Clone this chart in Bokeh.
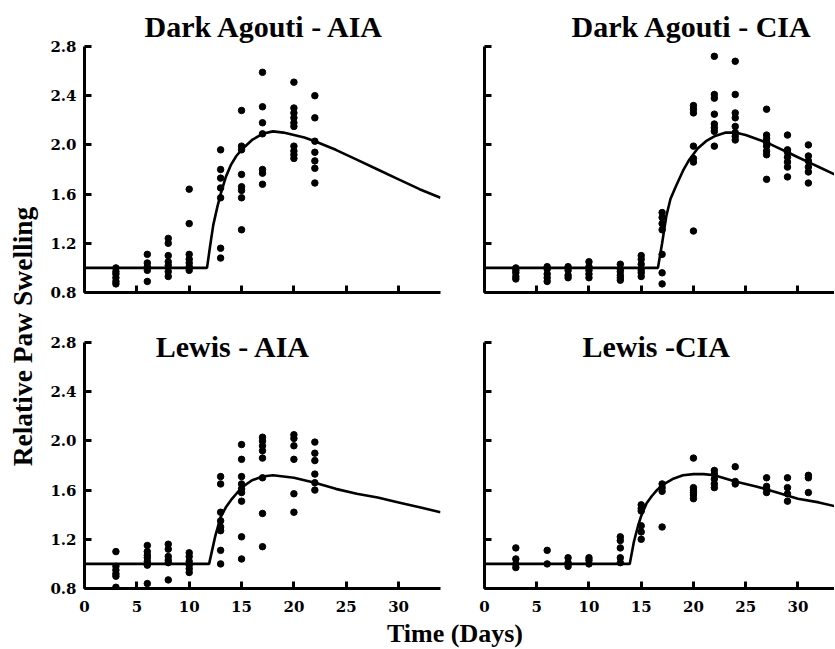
import math
from bokeh.plotting import figure
from bokeh.layouts import row, column
from bokeh.models import Label, FixedTicker, CustomJSTickFormatter, PrintfTickFormatter, Range1d
from bokeh.embed import file_html
from bokeh.resources import INLINE

# ---------------- data ----------------
x_ticks = [0, 5, 10, 15, 20, 25, 30]
y_ticks = [0.8, 1.2, 1.6, 2.0, 2.4, 2.8]

# Dark Agouti - AIA
da_aia_days = [3, 6, 8, 10, 13, 15, 17, 20, 22]
da_aia_vals = [
    [1.00, 0.97, 0.95, 0.92, 0.89, 0.87],
    [1.11, 1.04, 1.01, 0.98, 0.89],
    [1.24, 1.20, 1.10, 1.05, 1.02, 0.97, 0.93],
    [1.64, 1.36, 1.11, 1.07, 1.04, 1.01, 0.98],
    [1.96, 1.80, 1.73, 1.65, 1.57, 1.16, 1.08],
    [2.28, 1.99, 1.96, 1.76, 1.66, 1.63, 1.57, 1.31],
    [2.59, 2.31, 2.18, 2.09, 1.80, 1.77, 1.68],
    [2.51, 2.30, 2.26, 2.22, 2.18, 2.15, 1.99, 1.95, 1.92, 1.89],
    [2.40, 2.22, 2.03, 1.94, 1.87, 1.81, 1.69],
]
da_aia_fit_t = [0, 11.7, 12.0, 12.3, 12.7, 13.0, 13.5, 14.0, 14.5, 15.0, 16.0, 17.0, 18.0,
                19.0, 20.0, 21.0, 22.0, 24.0, 26.0, 28.0, 30.0, 32.0, 34.0]
da_aia_fit_y = [1.0, 1.0, 1.18, 1.35, 1.50, 1.60, 1.74, 1.84, 1.91, 1.96, 2.04, 2.09, 2.11,
                2.10, 2.08, 2.06, 2.03, 1.96, 1.88, 1.80, 1.72, 1.64, 1.57]

# Dark Agouti - CIA
da_cia_days = [3, 6, 8, 10, 13, 15, 17, 20, 22, 24, 27, 29, 31]
da_cia_vals = [
    [1.00, 0.98, 0.96, 0.93, 0.91],
    [1.01, 0.99, 0.95, 0.92, 0.89],
    [1.01, 0.98, 0.94, 0.92],
    [1.05, 1.01, 0.98, 0.95, 0.92],
    [1.03, 0.99, 0.97, 0.94, 0.92, 0.90],
    [1.10, 1.07, 1.03, 0.98, 0.96, 0.93],
    [1.45, 1.41, 1.36, 1.31, 1.11, 0.96, 0.87],
    [2.32, 2.29, 2.26, 1.99, 1.89, 1.86, 1.30],
    [2.72, 2.41, 2.38, 2.25, 2.17, 2.14, 2.11, 1.99],
    [2.68, 2.41, 2.26, 2.22, 2.15, 2.10, 2.07, 2.04],
    [2.29, 2.08, 2.05, 2.02, 1.99, 1.95, 1.92, 1.72],
    [2.08, 1.96, 1.94, 1.90, 1.86, 1.82, 1.74],
    [2.00, 1.91, 1.87, 1.82, 1.78, 1.69],
]
da_cia_fit_t = [0, 16.6, 17.0, 17.4, 17.8, 18.3, 19.0, 19.6, 20.4, 21.2, 22.0, 23.1, 24.0,
                25.0, 26.0, 27.0, 28.0, 29.0, 30.0, 31.0, 32.0, 33.5]
da_cia_fit_y = [1.0, 1.0, 1.20, 1.42, 1.56, 1.66, 1.79, 1.88, 1.97, 2.03, 2.07, 2.10, 2.10,
                2.08, 2.05, 2.02, 1.98, 1.94, 1.90, 1.86, 1.82, 1.76]

# Lewis - AIA
le_aia_days = [3, 6, 8, 10, 13, 15, 17, 20, 22]
le_aia_vals = [
    [1.10, 0.98, 0.95, 0.92, 0.90, 0.81],
    [1.15, 1.10, 1.07, 1.05, 1.02, 0.99, 0.84],
    [1.16, 1.12, 1.06, 1.03, 1.01, 0.87],
    [1.09, 1.06, 1.02, 0.99, 0.96, 0.93],
    [1.71, 1.65, 1.42, 1.35, 1.30, 1.27, 1.11, 1.00],
    [1.97, 1.85, 1.71, 1.65, 1.61, 1.58, 1.51, 1.22, 1.04],
    [2.03, 2.00, 1.96, 1.92, 1.86, 1.70, 1.41, 1.14],
    [2.05, 2.02, 1.96, 1.85, 1.57, 1.42],
    [1.99, 1.90, 1.84, 1.73, 1.66, 1.60],
]
le_aia_fit_t = [0, 11.9, 12.5, 13.0, 13.5, 14.0, 14.5, 15.0, 16.0, 17.0, 18.0, 19.0, 20.0,
                22.0, 24.0, 26.0, 28.0, 30.0, 32.0, 34.0]
le_aia_fit_y = [1.0, 1.0, 1.23, 1.38, 1.46, 1.52, 1.57, 1.62, 1.68, 1.71, 1.72, 1.71, 1.70,
                1.66, 1.61, 1.57, 1.54, 1.50, 1.46, 1.42]

# Lewis - CIA
le_cia_days = [3, 6, 8, 10, 13, 15, 17, 20, 22, 24, 27, 29, 31]
le_cia_vals = [
    [1.13, 1.04, 1.00, 0.97],
    [1.11, 1.00],
    [1.05, 1.01, 0.98],
    [1.05, 1.03, 1.00],
    [1.22, 1.19, 1.13, 1.05, 1.01],
    [1.48, 1.45, 1.43, 1.31, 1.26, 1.20],
    [1.65, 1.62, 1.59, 1.30],
    [1.86, 1.62, 1.60, 1.58, 1.56, 1.53],
    [1.76, 1.73, 1.69, 1.65, 1.62],
    [1.79, 1.67, 1.65],
    [1.70, 1.63, 1.61, 1.58],
    [1.70, 1.62, 1.57, 1.51],
    [1.72, 1.70, 1.58],
]
le_cia_fit_t = [0, 13.9, 14.3, 14.7, 15.0, 15.5, 16.0, 16.5, 17.0, 18.0, 19.0, 20.0, 21.0,
                22.0, 24.0, 26.0, 28.0, 30.0, 32.0, 33.5]
le_cia_fit_y = [1.0, 1.0, 1.18, 1.31, 1.39, 1.49, 1.55, 1.60, 1.64, 1.69, 1.72, 1.73, 1.73,
                1.72, 1.67, 1.63, 1.58, 1.53, 1.50, 1.47]

titles = ["Dark Agouti - AIA", "Dark Agouti - CIA", "Lewis - AIA", "Lewis -CIA"]
y_label = "Relative Paw Swelling"
x_label = "Time (Days)"

# ---------------- styling / layout ----------------
SERIF = "Liberation Serif"
TICK_FONT = "DejaVu Serif"
BLANK = "return ''"
Y_LO, Y_HI = 0.8, 2.8


def panel(days, vals, fit_t, fit_y, title, width, height, xmax,
          mbl, mbr, mbt, mbb, xlabels, ylabels,
          title_offset=None, title_pos=None, y_top=Y_HI):
    p = figure(width=width, height=height,
               x_range=Range1d(0, xmax), y_range=Range1d(Y_LO, y_top),
               output_backend="svg", toolbar_location=None,
               min_border_left=mbl, min_border_right=mbr,
               min_border_top=mbt, min_border_bottom=mbb)
    p.outline_line_color = None
    p.grid.visible = False
    p.background_fill_color = "white"
    p.border_fill_color = "white"

    for ax, ticks in ((p.xaxis[0], x_ticks), (p.yaxis[0], y_ticks)):
        ax.ticker = FixedTicker(ticks=ticks)
        ax.axis_line_width = 3
        ax.axis_line_color = "black"
        ax.major_tick_in = 7
        ax.major_tick_out = 0
        ax.major_tick_line_width = 3
        ax.major_tick_line_color = "black"
        ax.minor_tick_line_color = None
        ax.major_label_text_font = TICK_FONT
        ax.major_label_text_font_style = "bold"
        ax.major_label_text_font_size = "15px"
        ax.major_label_text_color = "black"
        ax.major_label_standoff = 8
    p.yaxis[0].bounds = (Y_LO, Y_HI)

    if xlabels:
        p.xaxis[0].major_label_standoff = 12
    else:
        p.xaxis[0].formatter = CustomJSTickFormatter(code=BLANK)
    if ylabels:
        p.yaxis[0].formatter = PrintfTickFormatter(format="%.1f")
    else:
        p.yaxis[0].formatter = CustomJSTickFormatter(code=BLANK)

    xs = [d for d, vs in zip(days, vals) for _ in vs]
    ys = [v for vs in vals for v in vs]
    p.line(fit_t, fit_y, line_color="black", line_width=2.6)
    p.scatter(xs, ys, size=6.5, marker="circle", fill_color="black", line_color="black")

    if title_offset is not None:
        p.title.text = title
        p.title.align = "left"
        p.title.offset = title_offset
        p.title.standoff = 7
        p.title.text_font = SERIF
        p.title.text_font_style = "bold"
        p.title.text_font_size = "30px"
        p.title.text_color = "black"
    else:
        p.add_layout(Label(x=title_pos[0], y=title_pos[1], text=title, text_align="center",
                           text_baseline="middle", text_font=SERIF,
                           text_font_style="bold", text_font_size="30px",
                           text_color="black"))
    return p


YLAB_W, L_W, R_W = 45, 414, 375
TOP_H, BOT_H, STRIP_H = 317, 301, 30
BOT_Y_TOP = 2.938   # frame extends above 2.8 so the panel titles sit inside it

tl = panel(da_aia_days, da_aia_vals, da_aia_fit_t, da_aia_fit_y, titles[0],
           L_W, TOP_H, 34, 39, 19, 46, 25, False, True, title_offset=60)
tr = panel(da_cia_days, da_cia_vals, da_cia_fit_t, da_cia_fit_y, titles[1],
           R_W, TOP_H, 33.5, 25, 0, 46, 25, False, False, title_offset=87)
bl = panel(le_aia_days, le_aia_vals, le_aia_fit_t, le_aia_fit_y, titles[2],
           L_W, BOT_H, 34, 39, 19, 8, 30, True, True, title_pos=(14.2, 2.77),
           y_top=BOT_Y_TOP)
br = panel(le_cia_days, le_cia_vals, le_cia_fit_t, le_cia_fit_y, titles[3],
           R_W, BOT_H, 33.5, 25, 0, 8, 30, True, False, title_pos=(16.43, 2.77),
           y_top=BOT_Y_TOP)


def blank_fig(w, h):
    f = figure(width=w, height=h, x_range=Range1d(0, w), y_range=Range1d(0, h),
               output_backend="svg", toolbar_location=None,
               min_border_left=0, min_border_right=0, min_border_top=0, min_border_bottom=0)
    f.axis.visible = False
    f.grid.visible = False
    f.outline_line_color = None
    f.background_fill_color = "white"
    f.border_fill_color = "white"
    return f


total_h = TOP_H + BOT_H + STRIP_H
ylab = blank_fig(YLAB_W, total_h)
ylab.add_layout(Label(x=21.5, y=total_h - 336, text=y_label, angle=math.pi / 2,
                      text_align="center", text_baseline="middle",
                      text_font=SERIF, text_font_style="bold", text_font_size="27.5px",
                      text_color="black"))

strip = blank_fig(L_W + R_W, STRIP_H)
strip.add_layout(Label(x=409.5, y=15, text=x_label, text_align="center",
                       text_baseline="middle", text_font=SERIF,
                       text_font_style="bold", text_font_size="26px",
                       text_color="black"))

layout = row(ylab, column(row(tl, tr), row(bl, br), strip))

with open("out.html", "w") as fh:
    fh.write(file_html(layout, INLINE))
